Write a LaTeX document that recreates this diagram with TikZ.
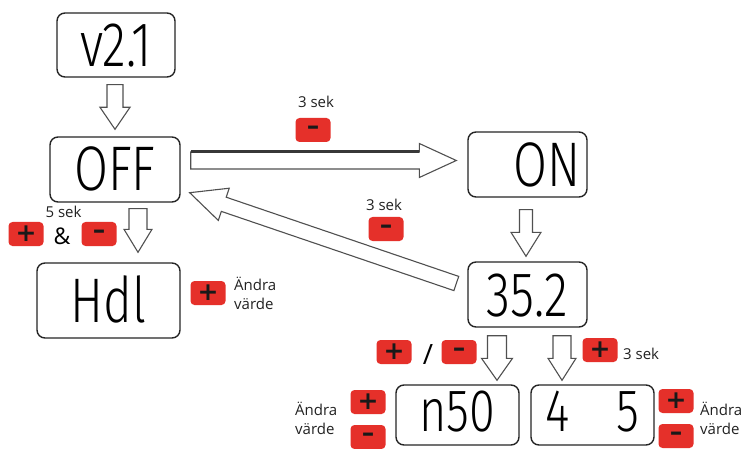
\documentclass[tikz,border=0pt]{standalone}
\usepackage{fontspec}
\usepackage{graphicx}
\setmainfont{Open Sans}
\newfontfamily\lcdfont{Fira Sans}[UprightFont=* Light]
\newfontfamily\symfont{DejaVu Sans Bold}
\usetikzlibrary{calc}
\definecolor{btnred}{HTML}{E5302A}
\definecolor{txtdark}{HTML}{222222}
\definecolor{arrgray}{HTML}{505050}
\tikzset{
  disp/.style={draw=black!85, line width=1.4pt, rounded corners=8pt, inner sep=0pt,
    font=\lcdfont\fontsize{63}{63}\selectfont, text height=43pt, text depth=0pt, align=center},
  lowdisp/.style={font=\lcdfont\fontsize{60}{60}\selectfont, text height=41pt, text depth=8pt},
  btn/.style={fill=btnred, rounded corners=4pt, minimum width=35pt, minimum height=24pt,
    inner sep=0pt, font=\symfont\fontsize{25}{25}\selectfont, text=black!90},
  lbl/.style={font=\fontsize{15}{19}\selectfont, text=txtdark, inner sep=0pt},
  barrow/.style={draw=arrgray, line width=1.1pt, fill=white, line join=miter},
}
\newcommand\lcd[1]{\scalebox{0.78}[1]{#1}}
% #2 from, #3 to, #4 shaft half width, #5 head half width, #6 head length
\newcommand\blockarrow[6][]{%
  \coordinate (ba-h) at ($(#3)!#6!(#2)$);
  \draw[barrow,#1] ($(#2)!#4!90:(#3)$) -- ($(ba-h)!#4!90:(#3)$) -- ($(ba-h)!#5!90:(#3)$)
    -- (#3) -- ($(ba-h)!#5!-90:(#3)$) -- ($(ba-h)!#4!-90:(#3)$) -- ($(#2)!#4!-90:(#3)$) -- cycle;}
\begin{document}
\begin{tikzpicture}[x=1pt,y=-1pt]
\useasboundingbox[fill=white] (0,0) rectangle (744,449);

% displays
\node[disp, minimum width=118pt, minimum height=64pt, text width=118pt] (v21) at (116,45) {\lcd{v2.1}};
\node[disp, minimum width=130pt, minimum height=65pt, text width=130pt] (off) at (115,169.5) {\lcd{OFF}};
\node[disp, minimum width=143pt, minimum height=75pt, text width=143pt] (hdl) at (108.5,300.5) {\lcd{Hdl}};
\node[disp, minimum width=119pt, minimum height=65pt, text width=106pt, align=right] (on) at (527.5,164.5) {\lcd{ON}};
\node[disp, minimum width=119pt, minimum height=65pt, text width=119pt] (p352) at (527.5,294.5) {\lcd{35.2}};
\node[disp, lowdisp, minimum width=123pt, minimum height=60pt, text width=123pt] (n50) at (457.5,415) {\lcd{n50}};
\node[disp, lowdisp, minimum width=123pt, minimum height=60pt, text width=123pt] (d45) at (592.5,415) {\lcd{4\ \ \ 5}};

% arrow end points
\coordinate (a1s) at ($(v21.south)+(-1,7)$);
\coordinate (a1e) at ($(off.north)+(0,-7)$);
\coordinate (a2s) at ($(off.south)+(23,6)$);
\coordinate (a2e) at ($(hdl.north)+(29.5,-10)$);
\coordinate (a3s) at ($(off.east)+(10,-9)$);
\coordinate (a3e) at ($(on.west)+(-11,-4)$);
\coordinate (a4s) at ($(p352.west)+(-11,-11)$);
\coordinate (a4e) at ($(off.south east)+(9,-10)$);
\coordinate (a5s) at ($(on.south)+(-1.5,12)$);
\coordinate (a5e) at ($(p352.north)+(-1.5,-5)$);
\coordinate (a6s) at ($(p352.south)+(-30.5,8)$);
\coordinate (a6e) at ($(n50.north)+(39.5,-4)$);
\coordinate (a7s) at ($(p352.south)+(34.5,8)$);
\coordinate (a7e) at ($(d45.north)+(-30.5,-4)$);

\blockarrow{a1s}{a1e}{8pt}{15pt}{22pt}
\blockarrow{a2s}{a2e}{9pt}{14pt}{23pt}
\blockarrow{a3s}{a3e}{8.5pt}{17pt}{37pt}
\draw[arrgray!70!black, line width=3pt] ($(a3s)!8.5pt!90:(a3e)$) -- ($($(a3e)!37pt!(a3s)$)!8.5pt!90:(a3e)$);
\blockarrow{a4s}{a4e}{7.5pt}{17pt}{36pt}
\blockarrow{a5s}{a5e}{6.5pt}{15pt}{24pt}
\blockarrow{a6s}{a6e}{9.5pt}{15.5pt}{22pt}
\blockarrow{a7s}{a7e}{9pt}{14pt}{22pt}

% buttons
\node[btn] (b1) at (313,130) {–};
\node[btn] (b2) at (386,229) {–};
\node[btn] (b3) at (26,234) {+};
\node[btn] (b4) at (99,234) {–};
\node[btn] (b5) at (208,293) {+};
\node[btn] (b6) at (394,352) {+};
\node[btn] (b7) at (459,352) {–};
\node[btn] (b8) at (600,350) {+};
\node[btn] (b9) at (368,402) {+};
\node[btn] (b10) at (368,437) {–};
\node[btn] (b11) at (676,401) {+};
\node[btn] (b12) at (676,436) {–};

% labels
\node[lbl, anchor=base] (t1) at (316,108) {3 sek};
\node[lbl, anchor=base] (t2) at (384,211) {3 sek};
\node[lbl, anchor=base] (t3) at (63.5,218) {5 sek};
\node[lbl, anchor=base, font=\fontsize{23}{23}\selectfont, text=black] (amp) at (62,244) {\&};
\node[lbl, anchor=base, font=\fontsize{28}{28}\selectfont, text=black] (sl) at (428,364) {/};
\node[lbl, anchor=base west] (t4) at (623,359) {3 sek};
\node[lbl, anchor=west, align=left] (t5) at (234,293) {Ändra\\värde};
\node[lbl, anchor=west, align=left] (t6) at (295,418) {Ändra\\värde};
\node[lbl, anchor=west, align=left] (t7) at (700,418) {Ändra\\värde};
\end{tikzpicture}
\end{document}
